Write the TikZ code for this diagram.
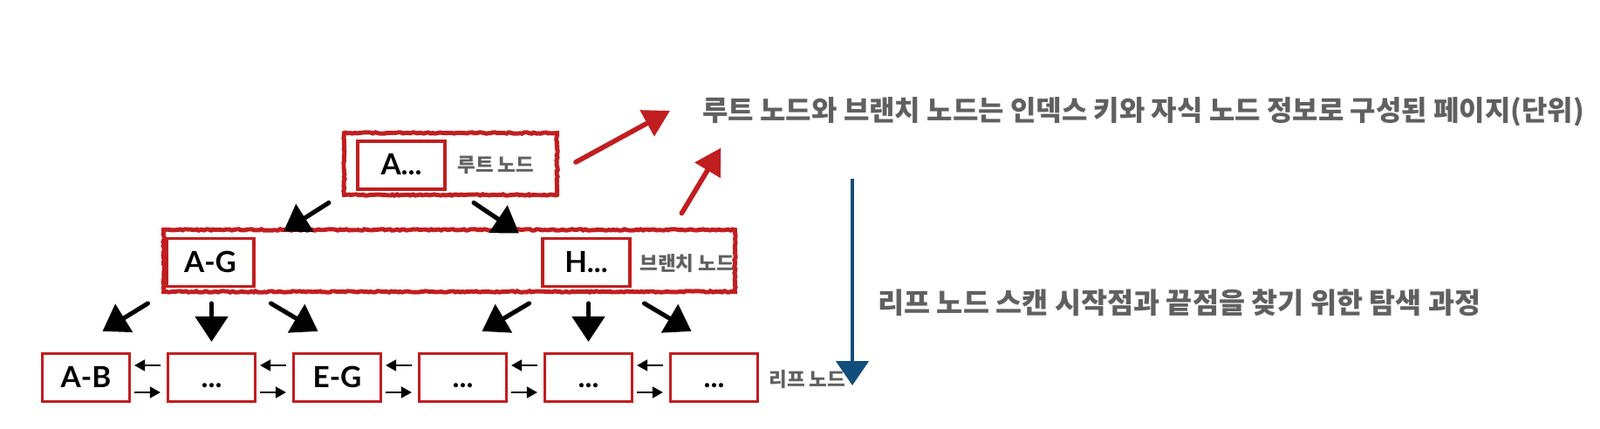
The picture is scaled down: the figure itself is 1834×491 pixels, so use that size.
\documentclass[tikz,border=0pt]{standalone}
\usepackage{fontspec}
\setmainfont{Noto Sans CJK KR}
\newfontfamily\keyfont{Lato}
\usetikzlibrary{arrows.meta,calc,decorations.pathmorphing}
\definecolor{boxred}{RGB}{193,30,32}
\definecolor{labelgray}{RGB}{96,96,96}
\definecolor{scanblue}{RGB}{18,78,122}
\newcommand{\leafdots}{...}
\begin{document}
\begin{tikzpicture}[x=0.02cm, y=-0.02cm,
    outerbox/.style={draw=boxred, line width=2.8pt, minimum height=1.42cm, decorate, decoration={random steps, segment length=1.5pt, amplitude=0.45pt}},
    keybox/.style={draw=boxred, line width=1.8pt, minimum width=2cm, minimum height=1.1cm, inner sep=0pt, text height=13pt, text depth=0pt, font=\keyfont\fontsize{19}{19}\selectfont\bfseries},
    tag/.style={anchor=west, inner sep=0pt, text=labelgray, font=\fontsize{12.8}{13}\selectfont\bfseries},
    note/.style={anchor=west, inner sep=0pt, text=labelgray, font=\fontsize{18.2}{19}\selectfont\bfseries},
    bigarrow/.style={-{Triangle[length=0.58cm, width=0.74cm]}, line width=2.9pt, line cap=round},
    redarrow/.style={-{Triangle[length=0.6cm, width=0.66cm]}, draw=boxred, line width=3.2pt, line cap=round},
    bluearrow/.style={-{Triangle[length=0.56cm, width=0.74cm]}, draw=scanblue, line width=2.8pt},
    linkarrow/.style={-{Triangle[length=0.24cm, width=0.26cm]}, line width=1.1pt}]
  \useasboundingbox (0,0) rectangle (1834,491);

  \node[outerbox, minimum width=4.88cm](root) at (516.5,188){};
  \node[keybox](rootkey) at (460,189.5){A...};
  \node[tag](roottag) at (524,189){루트 노드};

  \node[outerbox, minimum width=13.1cm](branch) at (515,299){};
  \node[keybox](AG) at (241,301){A-G};
  \node[keybox](H) at (672,301){H...};
  \node[tag](branchtag) at (733,302){브랜치 노드};

  \foreach \i/\lbl in {1/A-B, 2/\leafdots, 3/E-G, 4/\leafdots, 5/\leafdots, 6/\leafdots}
    \node[keybox](L\i) at ({98.5+144*(\i-1)}, 433){\lbl};
  \node[tag](leaftag) at (881,435){리프 노드};

  \foreach \i/\j in {1/2, 2/3, 3/4, 4/5, 5/6}{
    \draw[linkarrow] ($(L\j.west)+(-7,-14)$) -- ($(L\i.east)+(4,-14)$);
    \draw[linkarrow] ($(L\i.east)+(4,17)$) -- ($(L\j.west)+(-7,17)$);
  }

  \draw[bigarrow] ($(root.south)+(-139.5,6.5)$) -- ($(root.south)+(-191.5,39.5)$);
  \draw[bigarrow] ($(root.south)+(26.5,6.5)$) -- ($(root.south)+(78.5,41.5)$);
  \foreach \i/\dx/\ex/\ey in {1/71/19/-24, 2/0/0/-12, 3/-76/-22/-24, 4/76/22/-24, 5/0/0/-12, 6/-80/-26/-24}
    \draw[bigarrow] ($(L\i.north)+(\dx,-56)$) -- ($(L\i.north)+(\ex,\ey)$);

  \node[note](note1) at (805,128){루트 노드와 브랜치 노드는 인덱스 키와 자식 노드 정보로 구성된 페이지(단위)};
  \node[note, font=\fontsize{18.6}{19}\selectfont\bfseries](note2) at (1006,347){리프 노드 스캔 시작점과 끝점을 찾기 위한 탐색 과정};

  \draw[redarrow] ($(root.east)+(19,-2)$) -- ($(note1.west)+(-37,-1)$);
  \draw[redarrow] ($(branch.north east)+(-63.5,-16.5)$) -- ($(branch.north east)+(-18.5,-91.5)$);

  \coordinate (scantop) at (977,205);
  \coordinate (scanend) at (977,442);
  \draw[bluearrow] (scantop) -- (scanend);
\end{tikzpicture}
\end{document}
